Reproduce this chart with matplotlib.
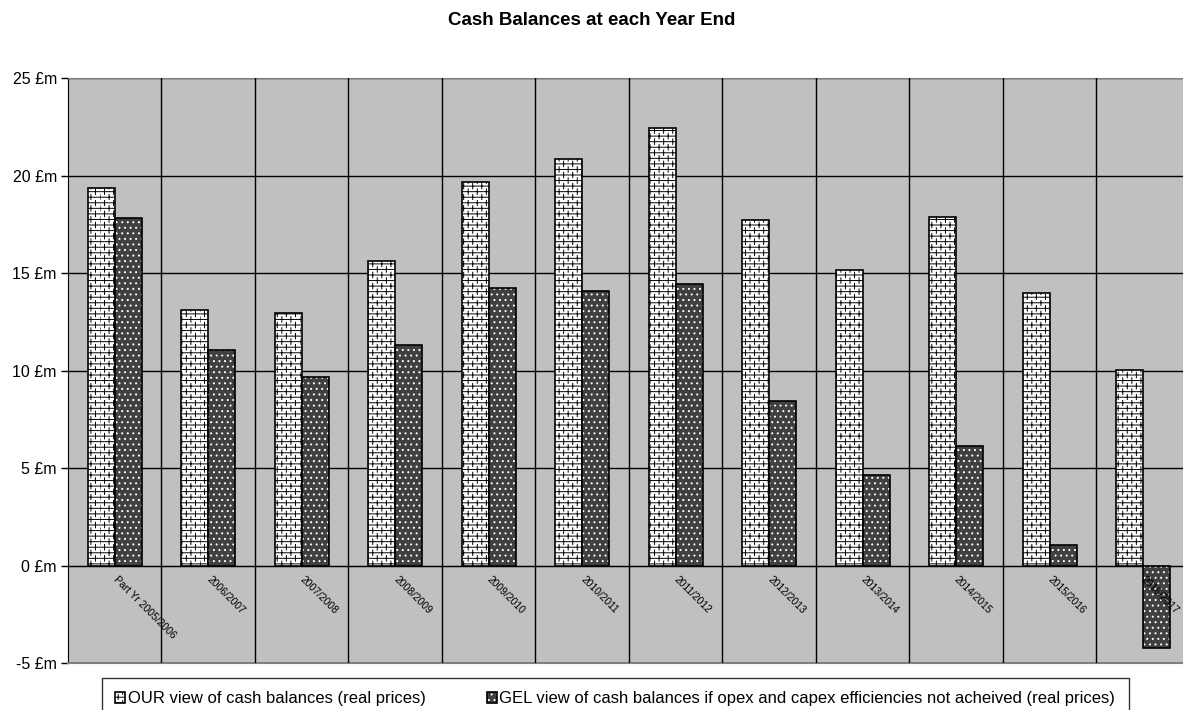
import numpy as np
import matplotlib
matplotlib.use("Agg")
import matplotlib.pyplot as plt
from matplotlib import hatch as mhatch
from matplotlib.legend_handler import HandlerTuple
from matplotlib.path import Path

years = ['Part Yr 2005/2006', '2006/2007', '2007/2008', '2008/2009', '2009/2010',
         '2010/2011', '2011/2012', '2012/2013', '2013/2014', '2014/2015',
         '2015/2016', '2016/2017']
our_view = [19.35, 13.11, 12.97, 15.60, 19.67, 20.84, 22.46, 17.74, 15.14, 17.85, 13.97, 10.02]
gel_view = [17.83, 11.04, 9.66, 11.33, 14.22, 14.09, 14.46, 8.46, 4.63, 6.12, 1.06, -4.24]
y_ticks = [-5, 0, 5, 10, 15, 20, 25]

our_label = "OUR view of cash balances (real prices)"
gel_label = "GEL view of cash balances if opex and capex efficiencies not acheived (real prices)"


# brick joints: staggered vertical strokes that go with the '-' rows
class BrickJoints(mhatch.HatchPatternBase):
    def __init__(self, hatch, density):
        self.num_rows = int(hatch.count('-') * density)
        self.num_cols = 11
        self.num_vertices = self.num_rows * self.num_cols * 2

    def set_vertices_and_codes(self, vertices, codes):
        n, m = self.num_rows, self.num_cols
        i = 0
        for r in range(n):
            shift = 0.5 / m if r % 2 else 0.0
            for c in range(m):
                x = c / m + shift
                vertices[i] = (x, r / n)
                vertices[i + 1] = (x, (r + 1) / n)
                codes[i] = Path.MOVETO
                codes[i + 1] = Path.LINETO
                i += 2


mhatch._hatch_types.append(BrickJoints)

plt.rcParams['font.family'] = ['Liberation Sans', 'DejaVu Sans']
plt.rcParams['hatch.linewidth'] = 0.7

fig = plt.figure(figsize=(11.83, 7.10), dpi=100)
ax = fig.add_axes([0.0574, 0.0662, 0.9484, 0.8239])
ax.set_facecolor('#C0C0C0')

# category axis sits on zero (spine move resets ticks, so do it first)
ax.spines['bottom'].set_position(('data', 0))
ax.spines['bottom'].set_color('black')
ax.spines['left'].set_color('black')
ax.spines['top'].set_color('#808080')
ax.spines['right'].set_visible(False)

x = np.arange(len(years))
w = 0.288
b_our = ax.bar(x - w / 2, our_view, w, facecolor='white', edgecolor='black',
               hatch='---', linewidth=1.2, zorder=3)
b_gel = ax.bar(x + w / 2, gel_view, w, facecolor='#404040', edgecolor='white',
               hatch='...', linewidth=0, zorder=3)
b_gel_edge = ax.bar(x + w / 2, gel_view, w, fill=False, edgecolor='black',
                    linewidth=1.2, zorder=3)

ax.set_xlim(-0.5, len(years) - 0.5)
ax.set_ylim(-5, 25)
ax.tick_params(axis='x', which='both', length=0, pad=9)
ax.tick_params(axis='y', length=5, width=1, pad=3)
ax.set_yticks(y_ticks)
ax.set_yticklabels([f"{v} £m" for v in y_ticks], fontsize=11.5)
ax.set_xticks(x)
ax.set_xticks(np.arange(len(years)) + 0.5, minor=True)
ax.set_xticklabels(years, fontsize=7.4, rotation=-45, ha='left', va='center',
                   rotation_mode='anchor')

ax.set_axisbelow(True)
ax.xaxis.set_zorder(4)  # category labels stay readable over the negative bar
ax.grid(True, axis='y', which='major', color='black', linewidth=1)
ax.grid(True, axis='x', which='minor', color='black', linewidth=1)
ax.axhline(-5, color='#808080', linewidth=1.5, zorder=4, clip_on=False)

fig.text(0.5, 0.971, "Cash Balances at each Year End", ha='center', va='center',
         fontsize=13.5, fontweight='bold')

leg = fig.legend([b_our, (b_gel, b_gel_edge)], [our_label, gel_label],
                 loc='upper left', bbox_to_anchor=(0.086, 1 - 678 / 710, 0.868, 0),
                 bbox_transform=fig.transFigure, mode='expand', ncol=2,
                 borderaxespad=0, fontsize=12, frameon=True, fancybox=False,
                 borderpad=0.8, handlelength=0.6, handleheight=0.6,
                 handletextpad=0.15, columnspacing=1.0,
                 handler_map={tuple: HandlerTuple(ndivide=1)})
leg.get_frame().set_edgecolor('black')
leg.get_frame().set_linewidth(1)

fig.savefig("out.png", dpi=100)
